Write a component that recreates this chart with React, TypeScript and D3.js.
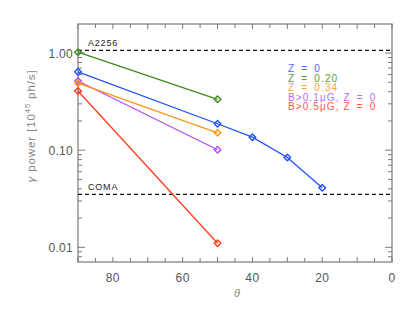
import React, { useRef, useEffect } from 'react';
import * as d3 from 'd3';

// theta (deg) for each curve
const thetaShort = [90, 50];
const thetaBlue = [90, 50, 40, 30, 20];

// gamma power [1e45 ph/s]
const blueZ0 = [0.64, 0.187, 0.136, 0.084, 0.041];
const greenZ020 = [1.02, 0.334];
const orangeZ034 = [0.49, 0.151];
const purpleB01 = [0.515, 0.101];
const redB05 = [0.406, 0.011];

const refLevels = [
  { name: 'A2256', value: 1.066 },
  { name: 'COMA', value: 0.035 },
];

const legendLabels = ['Z = 0', 'Z = 0.20', 'Z = 0.34', 'B>0.1\u03bcG, Z = 0', 'B>0.5\u03bcG, Z = 0'];
const seriesColors = ['#2150ff', '#3f8a1c', '#ff9419', '#b04dff', '#ff3a1c'];

const xTicks = [80, 60, 40, 20, 0];
const yTicks = [1, 0.1, 0.01];

const W = 415;
const H = 312;
const margin = { left: 78, right: 23, top: 24, bottom: 50 };

export default function App() {
  const ref = useRef<SVGSVGElement>(null);

  useEffect(() => {
    if (!ref.current) return;
    const svg = d3.select(ref.current);
    svg.selectAll('*').remove();

    const x0 = margin.left, x1 = W - margin.right;
    const y0 = margin.top, y1 = H - margin.bottom;
    const x = d3.scaleLinear().domain([90, 0]).range([x0, x1]);
    const y = d3.scaleLog().domain([0.00706, 1.99]).range([y1, y0]);

    const axisColor = '#7a7a7a';
    const textColor = '#555';

    // frame
    svg.append('rect')
      .attr('x', x0).attr('y', y0)
      .attr('width', x1 - x0).attr('height', y1 - y0)
      .attr('fill', 'none').attr('stroke', axisColor).attr('stroke-width', 1.2);

    // x ticks every 5 deg, inward on top and bottom
    const g = svg.append('g').attr('stroke', axisColor).attr('stroke-width', 1);
    d3.range(0, 91, 5).forEach(t => {
      const len = t % 10 === 0 ? 5 : 4;
      g.append('line').attr('x1', x(t)).attr('x2', x(t)).attr('y1', y1).attr('y2', y1 - len);
      g.append('line').attr('x1', x(t)).attr('x2', x(t)).attr('y1', y0).attr('y2', y0 + len);
    });

    // y ticks: log majors + minors
    const decades = [0.001, 0.01, 0.1, 1];
    decades.forEach(d => {
      for (let k = 1; k <= 9; k++) {
        const v = d * k;
        if (v < 0.00706 || v > 1.99) continue;
        const len = k === 1 ? 7 : 4;
        g.append('line').attr('x1', x0).attr('x2', x0 + len).attr('y1', y(v)).attr('y2', y(v));
        g.append('line').attr('x1', x1).attr('x2', x1 - len).attr('y1', y(v)).attr('y2', y(v));
      }
    });

    const font = 'Liberation Sans, Arial, sans-serif';

    // tick labels
    svg.append('g').selectAll('text').data(xTicks).enter().append('text')
      .attr('x', d => x(d)).attr('y', y1 + 19.5)
      .attr('text-anchor', 'middle')
      .attr('font-family', font).attr('font-size', 12).attr('letter-spacing', 0.4).attr('fill', textColor)
      .text(d => String(d));

    svg.append('g').selectAll('text').data(yTicks).enter().append('text')
      .attr('x', x0 - 5).attr('y', d => y(d) + 4.5)
      .attr('text-anchor', 'end')
      .attr('font-family', font).attr('font-size', 12).attr('letter-spacing', 0.3).attr('fill', textColor)
      .text(d => d3.format('.2f')(d));

    // axis titles
    svg.append('text')
      .attr('x', 237).attr('y', y1 + 35)
      .attr('text-anchor', 'middle')
      .attr('font-family', font).attr('font-size', 11).attr('font-style', 'italic').attr('fill', '#888')
      .text('\u03b8');

    const yt = svg.append('text')
      .attr('transform', 'translate(35, 126) rotate(-90)')
      .attr('text-anchor', 'middle')
      .attr('font-family', font).attr('font-size', 11.5).attr('letter-spacing', 0.9).attr('fill', '#888');
    yt.append('tspan').attr('font-style', 'italic').text('\u03b3');
    yt.append('tspan').text(' power [10');
    yt.append('tspan').attr('font-size', 7.5).attr('dy', -5).text('45');
    yt.append('tspan').attr('dy', 5).text(' ph/s]');

    // reference levels
    refLevels.forEach(r => {
      svg.append('line')
        .attr('x1', x0).attr('x2', x1).attr('y1', y(r.value)).attr('y2', y(r.value))
        .attr('stroke', '#111').attr('stroke-width', 1.3).attr('stroke-dasharray', '4,3');
      svg.append('text')
        .attr('x', x0 + 10).attr('y', y(r.value) - 4)
        .attr('font-family', font).attr('font-size', 9).attr('letter-spacing', 0.8).attr('fill', '#222')
        .text(r.name);
    });

    // series
    const series = [
      { th: thetaBlue, v: blueZ0 },
      { th: thetaShort, v: greenZ020 },
      { th: thetaShort, v: orangeZ034 },
      { th: thetaShort, v: purpleB01 },
      { th: thetaShort, v: redB05 },
    ];
    const line = d3.line<[number, number]>().x(d => x(d[0])).y(d => y(d[1]));
    const diamond = d3.symbol().type(d3.symbolDiamond2).size(28);
    const draw = [4, 3, 2, 0, 1];
    draw.forEach(i => {
      const s = series[i];
      const pts: [number, number][] = s.th.map((t, j) => [t, s.v[j]]);
      svg.append('path').attr('d', line(pts))
        .attr('fill', 'none').attr('stroke', seriesColors[i]).attr('stroke-width', 1.3);
      svg.append('g').selectAll('path').data(pts).enter().append('path')
        .attr('d', diamond)
        .attr('transform', d => `translate(${x(d[0])},${y(d[1])})`)
        .attr('fill', 'none').attr('stroke', seriesColors[i]).attr('stroke-width', 1.4);
    });

    // legend
    svg.append('g').selectAll('text').data(legendLabels).enter().append('text')
      .attr('x', 288).attr('y', (d, i) => 72 + i * 9.5)
      .attr('font-family', font).attr('font-size', 10).attr('letter-spacing', 1.1)
      .attr('fill', (d, i) => seriesColors[i]).attr('opacity', 0.85)
      .text(d => d.replace(/ = /g, '\u2002=\u2002'));
  }, []);

  return <svg ref={ref} width={W} height={H} style={{ position: 'absolute', left: 0, top: 0 }} />;
}
